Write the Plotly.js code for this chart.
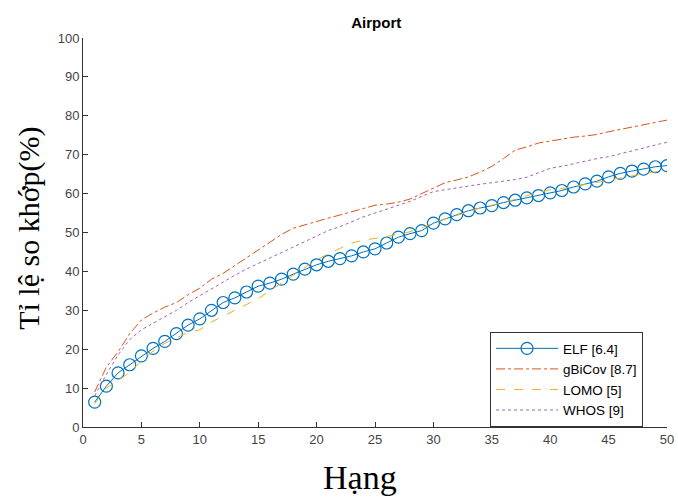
<!DOCTYPE html>
<html><head><meta charset="utf-8">
<script src="https://cdn.plot.ly/plotly-3.0.1.min.js"></script>
<style>html,body{margin:0;padding:0;background:#fff}#chart{width:678px;height:497px}</style>
</head><body><div id="chart"></div>
<script>
const ranks = Array.from({length:50},(_,i)=>i+1);
const elf = [6.4,10.5,13.9,16,18.3,20.2,22,24,26.2,27.8,30,32,33.2,34.7,36.2,37,38,39.3,40.6,41.7,42.6,43.3,44,45,45.8,47.3,48.8,49.7,50.5,52.4,53.5,54.6,55.6,56.3,56.9,57.7,58.3,58.9,59.5,60.2,60.8,61.7,62.5,63.2,64.3,65.2,65.8,66.3,66.9,67.2];
const gbicov = [9,15.4,19.3,24,27.5,29.3,30.8,32,34,35.7,38,39.5,41.5,43.5,45.5,47.5,49.5,51.1,52,53,53.7,54.5,55.3,56.2,57,57.3,57.8,58.6,60,61.3,62.8,63.5,64.3,65.5,67,69,71.2,72,73,73.5,74,74.5,74.8,75.2,75.9,76.5,77.2,77.7,78.3,78.9];
const lomo = [6,10,12,14,17,19.5,21.5,23,24.3,25,27,28.5,30,31.5,33,35,37,39,41,43,44.5,46,47.3,48,48.5,49,49.5,50.2,51.2,52.5,53.5,54.5,55.5,56.3,57,57.8,58.5,59.5,60.3,61,61.3,61.8,62.3,62.8,63.4,64,64.6,65.1,65.6,66];
const whos = [8,13.5,18.5,22.5,25,26.7,28.3,30,32,33.8,35.5,37.2,39,40.6,42,43.6,45,46.3,47.6,49,50.5,51.5,52.8,54,55,56,57,58,59.3,60.5,61,61.5,62,62.4,62.8,63.2,63.6,64.2,65.3,66.5,67,67.7,68.3,69,69.5,70.2,71,71.7,72.5,73.2];
const names = ['ELF [6.4]','gBiCov [8.7]','LOMO [5]','WHOS [9]'];
const xTitle = 'Hạng';
const yTitle = 'Tỉ lệ so khớp(%)';

const traces = [
  {x:ranks,y:elf,name:names[0],mode:'lines+markers',line:{color:'#0072BD',width:1},
   marker:{symbol:'circle-open',size:12,color:'#0072BD',line:{width:1.2}}},
  {x:ranks,y:gbicov,name:names[1],mode:'lines',line:{color:'#D95319',width:1,dash:'dashdot'}},
  {x:ranks,y:lomo,name:names[2],mode:'lines',line:{color:'#EDB120',width:1,dash:'dash'}},
  {x:ranks,y:whos,name:names[3],mode:'lines',line:{color:'#9E62B8',width:1,dash:'dot'}}
];
const tickfont = {family:'Liberation Sans, Arial, sans-serif',size:13,color:'#444'};
const serif = 'Liberation Serif, Times New Roman, serif';
const layout = {
  width:678,height:497,
  margin:{l:83,r:11,t:38,b:70},
  paper_bgcolor:'#fff',plot_bgcolor:'#fff',
  title:{text:'<b>Airport</b>',font:{family:'Liberation Sans, Arial, sans-serif',size:15,color:'#000'},x:0.555,xanchor:'center',y:0.955,yanchor:'middle'},
  xaxis:{range:[0,50],tickvals:[0,5,10,15,20,25,30,35,40,45,50],ticks:'inside',ticklen:5,tickcolor:'#333',
    showline:true,linecolor:'#333',linewidth:1,showgrid:false,zeroline:false,mirror:false,tickfont:tickfont},
  yaxis:{range:[0,100],tickvals:[0,10,20,30,40,50,60,70,80,90,100],ticks:'inside',ticklen:5,tickcolor:'#333',
    showline:true,linecolor:'#333',linewidth:1,showgrid:false,zeroline:false,tickfont:tickfont},
  annotations:[
    {text:xTitle,xref:'paper',yref:'paper',x:0.474,y:-0.131,xanchor:'center',yanchor:'middle',showarrow:false,
     font:{family:serif,size:34,color:'#000'}},
    {text:yTitle,xref:'paper',yref:'paper',x:-0.0925,y:0.512,xanchor:'center',yanchor:'middle',showarrow:false,textangle:-90,
     font:{family:serif,size:30,color:'#000'}}
  ],
  legend:{x:0.697,y:0.244,xanchor:'left',yanchor:'top',bgcolor:'#fff',bordercolor:'#333',borderwidth:1,
    font:{family:'Liberation Sans, Arial, sans-serif',size:13.5,color:'#000'},tracegroupgap:0,itemwidth:62},
  showlegend:true
};
Plotly.newPlot('chart',traces,layout,{displayModeBar:false,staticPlot:true});
</script></body></html>
